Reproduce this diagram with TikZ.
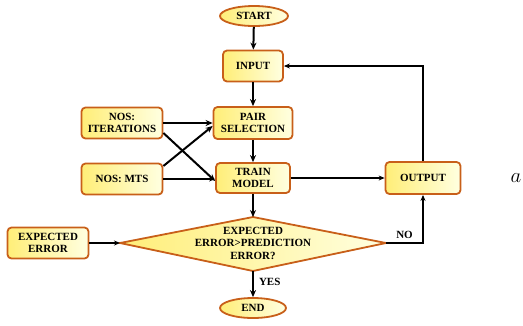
\documentclass[tikz,border=0pt]{standalone}
\usepackage{fontspec}
\setmainfont{Liberation Serif}
\usetikzlibrary{arrows.meta,shapes.geometric,calc}
\definecolor{bord}{RGB}{200,95,25}
\definecolor{fillA}{RGB}{255,238,120}
\definecolor{fillB}{RGB}{255,255,225}
\tikzset{
  box/.style={draw=bord, line width=1.8pt, rounded corners=4pt, left color=fillA, right color=fillB,
    font=\fontsize{11}{12.5}\selectfont\bfseries, align=center, inner sep=0pt},
  term/.style={ellipse, draw=bord, line width=1.8pt, left color=fillA, right color=fillB,
    font=\fontsize{11}{12.5}\selectfont\bfseries, inner sep=0pt},
  conn/.style={line width=1.4pt, -{Stealth[length=6pt,width=5pt]}},
  thick conn/.style={line width=2pt, -{Stealth[length=7pt,width=6pt]}},
  lbl/.style={font=\fontsize{11}{12.5}\selectfont\bfseries, inner sep=0pt}
}
\begin{document}
\begin{tikzpicture}[x=1pt,y=-1pt]
\useasboundingbox (0,0) rectangle (523,325);
\node[term, minimum width=68pt, minimum height=20pt] (start) at (254,16) {START};
\node[box, minimum width=60pt, minimum height=31pt] (input) at (253,66) {INPUT};
\node[box, minimum width=79pt, minimum height=32pt] (pair) at (253,123) {PAIR\\SELECTION};
\node[box, minimum width=74pt, minimum height=30pt] (train) at (253,178) {TRAIN\\MODEL};
\node[box, minimum width=81pt, minimum height=31pt] (iter) at (122,123) {NOS:\\ITERATIONS};
\node[box, minimum width=81pt, minimum height=31pt] (mts) at (122,179) {NOS: MTS};
\node[box, minimum width=75pt, minimum height=32pt] (output) at (423,178) {OUTPUT};
\node[box, minimum width=81pt, minimum height=31pt] (experr) at (48,243) {EXPECTED\\ERROR};
\coordinate (dl) at (120,243);
\coordinate (dr) at (386,243);
\coordinate (dt) at (253,217);
\coordinate (db) at (253,271);
\path[draw=bord, line width=1.8pt, left color=fillA, right color=fillB, line join=miter]
  (dl) -- (dt) -- (dr) -- (db) -- cycle;
\node[lbl, align=center] (dtext) at (253,243) {EXPECTED\\ERROR>PREDICTION\\ERROR?};
\node[term, minimum width=66pt, minimum height=20pt] (end) at (253,308) {END};
\node[font=\fontsize{22}{24}\selectfont, inner sep=0pt] (a) at (516,178) {$a$};
% connectors
\draw[thick conn] (start) -- (input);
\draw[thick conn] (input) -- (pair);
\draw[thick conn] (pair) -- (train);
\draw[thick conn] (train) -- (dt);
\draw[thick conn] (db) -- (end) node[lbl, pos=0.4, right=5pt] (yes) {YES};
\draw[conn] (dr) -| (output.south) node[lbl, pos=0.25, above=4pt] (no) {NO};
\draw[conn] (output.north) |- (input.east);
\draw[conn] (train.east) -- (output.west);
\draw[thick conn] (iter.east) -- (pair.west);
\draw[thick conn] (iter.east|-0,133) -- (train.west|-0,181);
\draw[thick conn] (mts.east|-0,166) -- (pair.west|-0,126);
\draw[conn] (mts.east) -- (train.west|-mts.east);
\draw[conn] (experr.east) -- (dl);
\end{tikzpicture}
\end{document}
